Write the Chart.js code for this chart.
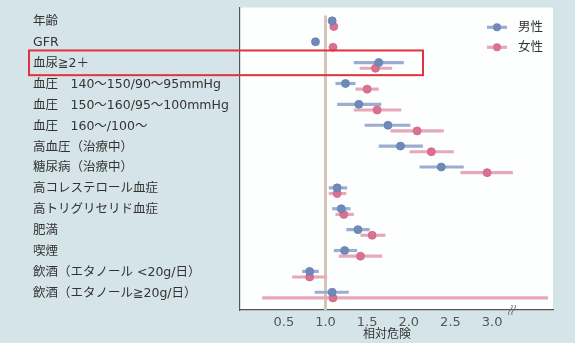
<!DOCTYPE html>
<html><head><meta charset="utf-8">
<script src="https://cdn.jsdelivr.net/npm/chart.js@4"></script>
<style>html,body{margin:0;padding:0;background:#d5e4e8}#c{display:block}</style>
</head><body>
<canvas id="c" width="575" height="343"></canvas>
<script>
const categories = ['年齢','GFR','血尿≧2＋','血圧　140～150/90～95mmHg','血圧　150～160/95～100mmHg','血圧　160～/100～','高血圧（治療中）','糖尿病（治療中）','高コレステロール血症','高トリグリセリド血症','肥満','喫煙','飲酒（エタノール <20g/日）','飲酒（エタノール≧20g/日）'];
const maleRR = [1.08,0.88,1.64,1.24,1.40,1.75,1.90,2.39,1.14,1.19,1.39,1.23,0.81,1.08];
const maleLo = [1.06,0.85,1.34,1.12,1.14,1.47,1.64,2.13,1.04,1.08,1.25,1.10,0.72,0.87];
const maleHi = [1.10,0.91,1.94,1.36,1.67,2.02,2.17,2.66,1.26,1.30,1.53,1.38,0.92,1.28];
const femaleRR = [1.10,1.09,1.60,1.50,1.62,2.10,2.27,2.94,1.14,1.22,1.56,1.42,0.81,1.09];
const femaleLo = [1.07,1.06,1.41,1.36,1.34,1.78,2.01,2.62,1.04,1.12,1.42,1.16,0.60,0.24];
const femaleHi = [1.13,1.12,1.80,1.64,1.91,2.42,2.54,3.25,1.25,1.34,1.72,1.68,1.02,3.67];
const xTicks = [0.5,1.0,1.5,2.0,2.5,3.0];
const seriesNames = ['男性','女性'];
const axisTitle = '相対危険';
const highlightRow = 2;

const FONT = '"DejaVu Sans", "Noto Sans CJK JP", sans-serif';
const BLUE = '#6f8ab8', BLUE_CI = '#9aaed1';
const PINK = '#d9718f', PINK_CI = '#e7a8bc';
const MALE_OFF = -0.06, FEMALE_OFF = 0.21;

const deco = {
  id: 'deco',
  beforeDraw(chart) {
    const {ctx, chartArea: a} = chart;
    ctx.save();
    ctx.fillStyle = '#d5e4e8';
    ctx.fillRect(0, 0, chart.width, chart.height);
    ctx.fillStyle = '#fdfefe';
    ctx.fillRect(a.left, a.top, a.right - a.left, a.bottom - a.top);
    ctx.restore();
  },
  beforeDatasetsDraw(chart) {
    const {ctx, chartArea: a, scales: {x, y}} = chart;
    ctx.save();
    const x1 = x.getPixelForValue(1.0);
    ctx.strokeStyle = '#d3c5b8';
    ctx.lineWidth = 3;
    ctx.beginPath(); ctx.moveTo(x1, a.top + 8); ctx.lineTo(x1, a.bottom); ctx.stroke();
    ctx.lineWidth = 3.2;
    ctx.lineCap = 'butt';
    const drawCI = (lo, hi, off, col) => {
      ctx.strokeStyle = col;
      lo.forEach((l, i) => {
        const py = y.getPixelForValue(i + off);
        ctx.beginPath();
        ctx.moveTo(x.getPixelForValue(l), py);
        ctx.lineTo(Math.min(x.getPixelForValue(hi[i]), a.right - 3), py);
        ctx.stroke();
      });
    };
    drawCI(maleLo, maleHi, MALE_OFF, BLUE_CI);
    drawCI(femaleLo, femaleHi, FEMALE_OFF, PINK_CI);
    ctx.restore();
  },
  afterDraw(chart) {
    const {ctx, chartArea: a, scales: {x, y}} = chart;
    ctx.save();
    const items = [[seriesNames[0], BLUE, BLUE_CI, 27.3], [seriesNames[1], PINK, PINK_CI, 47.3]];
    items.forEach(([name, c, ci, ly]) => {
      ctx.strokeStyle = ci; ctx.lineWidth = 3.2;
      ctx.beginPath(); ctx.moveTo(487, ly); ctx.lineTo(507, ly); ctx.stroke();
      ctx.fillStyle = c;
      ctx.beginPath(); ctx.arc(497, ly, 4, 0, Math.PI * 2); ctx.fill();
      ctx.fillStyle = '#333';
      ctx.font = '12.5px ' + FONT;
      ctx.textAlign = 'left'; ctx.textBaseline = 'middle';
      ctx.fillText(name, 518, ly);
    });
    const ry = y.getPixelForValue(highlightRow);
    ctx.strokeStyle = '#e2323c'; ctx.lineWidth = 2;
    ctx.strokeRect(29, ry - 13.4, 394, 24.7);
    const bx = 512, by = a.bottom;
    ctx.strokeStyle = '#666'; ctx.lineWidth = 1;
    [-1.6, 1.6].forEach(dx => {
      ctx.beginPath();
      ctx.moveTo(bx + dx - 1.5, by + 5);
      ctx.bezierCurveTo(bx + dx - 3.5, by + 1, bx + dx + 3.5, by - 1, bx + dx + 1.5, by - 5);
      ctx.stroke();
    });
    ctx.fillStyle = '#333';
    ctx.font = '12px ' + FONT;
    ctx.textAlign = 'center'; ctx.textBaseline = 'middle';
    ctx.fillText(axisTitle, 387, 335);
    ctx.restore();
  }
};

new Chart(document.getElementById('c'), {
  type: 'scatter',
  data: {
    datasets: [
      { label: seriesNames[0], data: maleRR.map((v, i) => ({x: v, y: i + MALE_OFF})),
        pointRadius: 4, pointBackgroundColor: BLUE, pointBorderColor: '#6380b2', pointBorderWidth: 0.8 },
      { label: seriesNames[1], data: femaleRR.map((v, i) => ({x: v, y: i + FEMALE_OFF})),
        pointRadius: 4, pointBackgroundColor: PINK, pointBorderColor: '#cf6485', pointBorderWidth: 0.8 }
    ]
  },
  options: {
    responsive: false, animation: false, devicePixelRatio: 1,
    layout: { padding: { left: 33, right: 22, top: 7, bottom: 0 } },
    plugins: { legend: { display: false }, tooltip: { enabled: false } },
    scales: {
      x: {
        type: 'linear', min: -0.026, max: 3.731,
        grid: { display: false, drawTicks: false },
        border: { display: true, color: '#555', width: 1.2 },
        afterBuildTicks: s => { s.ticks = xTicks.map(v => ({value: v})); },
        afterFit: s => { s.height = 33; },
        ticks: { padding: 5, color: '#555', font: { size: 13, family: FONT }, callback: v => Number(v).toFixed(1), maxRotation: 0, autoSkip: false }
      },
      y: {
        type: 'linear', reverse: true, min: -0.70, max: 13.79,
        grid: { display: false, drawTicks: false },
        border: { display: true, color: '#555', width: 1.2 },
        afterBuildTicks: s => { s.ticks = categories.map((c, i) => ({value: i})); },
        afterFit: s => { s.width = 207; },
        ticks: { crossAlign: 'far', padding: 0, color: '#333', font: { size: 12.5, family: FONT }, autoSkip: false,
                 callback: v => categories[v] }
      }
    }
  },
  plugins: [deco]
});
</script>
</body></html>
